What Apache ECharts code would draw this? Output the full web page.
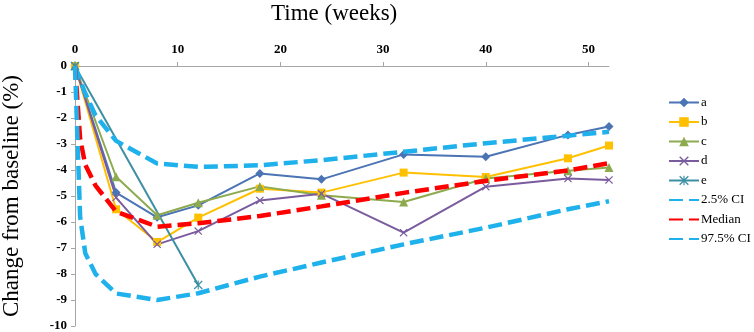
<!DOCTYPE html>
<html>
<head>
<meta charset="utf-8">
<script src="https://cdn.jsdelivr.net/npm/echarts@6/dist/echarts.min.js"></script>
<style>
  html, body { margin: 0; padding: 0; background: #fff; }
  #chart { width: 754px; height: 332px; }
</style>
</head>
<body>
<div id="chart"></div>
<script>
// weeks for the observed series
const weeks = [0, 4, 8, 12, 18, 24, 32, 40, 48, 52];
const aVals = [0, -4.87, -5.82, -5.36, -4.13, -4.36, -3.4, -3.49, -2.65, -2.33];
const bVals = [0, -5.51, -6.77, -5.83, -4.72, -4.87, -4.1, -4.27, -3.55, -3.06];
const cVals = [0, -4.26, -5.74, -5.26, -4.63, -4.97, -5.23, -4.33, -4.03, -3.9];
const dVals = [0, -5.06, -6.86, -6.35, -5.17, -4.91, -6.41, -4.64, -4.33, -4.38];
const eWeeks = [0, 12];
const eVals = [0, -8.42];

// model prediction lines
const ciWeeks = [0, 0.5, 1, 2, 4, 8, 12, 18, 24, 32, 40, 48, 52];
const ciUpper = [0, -0.55, -1.05, -1.9, -2.88, -3.75, -3.88, -3.82, -3.62, -3.3, -2.97, -2.68, -2.53];
const median = [0, -2.8, -3.8, -4.6, -5.6, -6.18, -6.05, -5.77, -5.4, -4.88, -4.42, -4.02, -3.74];
const ciLower = [0, -5.8, -7.2, -8.0, -8.75, -9.0, -8.74, -8.1, -7.56, -6.86, -6.22, -5.51, -5.2];

const xTicks = [0, 10, 20, 30, 40, 50];

const serif = "Liberation Serif";
const pair = (xs, ys) => xs.map((x, i) => [x, ys[i]]);

const crossPath = "path://M0,1L1,0L5,4L9,0L10,1L6,5L10,9L9,10L5,6L1,10L0,9L4,5Z";
const starPath = "path://M0,1L1,0L5,4L9,0L10,1L6,5L10,9L9,10L5,6L1,10L0,9L4,5Z M4.4,0H5.6V10H4.4Z";

function obs(name, xs, ys, color, symbol, size) {
  return {
    name: name,
    type: "line",
    data: pair(xs, ys),
    symbol: symbol,
    symbolSize: size,
    lineStyle: { color: color, width: 2 },
    itemStyle: { color: color },
    z: 2
  };
}

function dashed(name, ys, color) {
  return {
    name: name,
    type: "line",
    data: pair(ciWeeks, ys),
    symbol: "none",
    lineStyle: { color: color, width: 4.5, type: [14, 6] },
    itemStyle: { color: color },
    z: 3
  };
}

const chart = echarts.init(document.getElementById("chart"));
chart.setOption({
  animation: false,
  title: {
    text: "Time (weeks)",
    left: 266,
    top: -3,
    textStyle: { fontFamily: serif, fontSize: 23, fontWeight: "normal", color: "#000" }
  },
  grid: { left: 75, right: 145, top: 66, bottom: 6, outerBoundsMode: "none" },
  legend: {
    orient: "vertical",
    left: 668,
    top: 96,
    padding: 0,
    itemWidth: 30,
    itemHeight: 12,
    itemGap: 6.5,
    textStyle: { fontFamily: serif, fontSize: 13, color: "#000", padding: [0, 0, 0, -3], overflow: "none" },
    data: [
      "a", "b", "c", "d", "e",
      { name: "2.5% CI", itemStyle: { opacity: 0 } },
      { name: "Median", itemStyle: { opacity: 0 } },
      { name: "97.5% CI", itemStyle: { opacity: 0 } }
    ]
  },
  xAxis: {
    type: "value",
    position: "top",
    min: 0,
    max: 52,
    interval: 10,
    splitLine: { show: false },
    axisLine: { lineStyle: { color: "#a6a6a6" } },
    axisTick: { customValues: xTicks, length: 4, lineStyle: { color: "#a6a6a6" } },
    axisLabel: {
      customValues: xTicks,
      margin: 10,
      fontFamily: serif,
      fontWeight: "bold",
      fontSize: 13,
      color: "#000"
    }
  },
  yAxis: {
    type: "value",
    min: -10,
    max: 0,
    interval: 1,
    name: "Change from baseline (%)",
    nameLocation: "middle",
    nameGap: 52,
    nameTextStyle: { fontFamily: serif, fontSize: 23, color: "#000" },
    splitLine: { show: false },
    axisLine: { show: true, lineStyle: { color: "#a6a6a6" } },
    axisTick: { show: true, length: 4, lineStyle: { color: "#a6a6a6" } },
    axisLabel: { margin: 8, fontFamily: serif, fontWeight: "bold", fontSize: 13, color: "#000" }
  },
  series: [
    obs("a", weeks, aVals, "#4A74B4", "diamond", 9),
    obs("b", weeks, bVals, "#FFC000", "rect", 8),
    obs("c", weeks, cVals, "#8DAA4E", "triangle", 9),
    obs("d", weeks, dVals, "#7A5C9E", crossPath, 8),
    obs("e", eWeeks, eVals, "#3D8FA3", starPath, 9),
    dashed("2.5% CI", ciUpper, "#1EB1EC"),
    dashed("Median", median, "#FF0000"),
    dashed("97.5% CI", ciLower, "#1EB1EC")
  ]
});
</script>
</body>
</html>
